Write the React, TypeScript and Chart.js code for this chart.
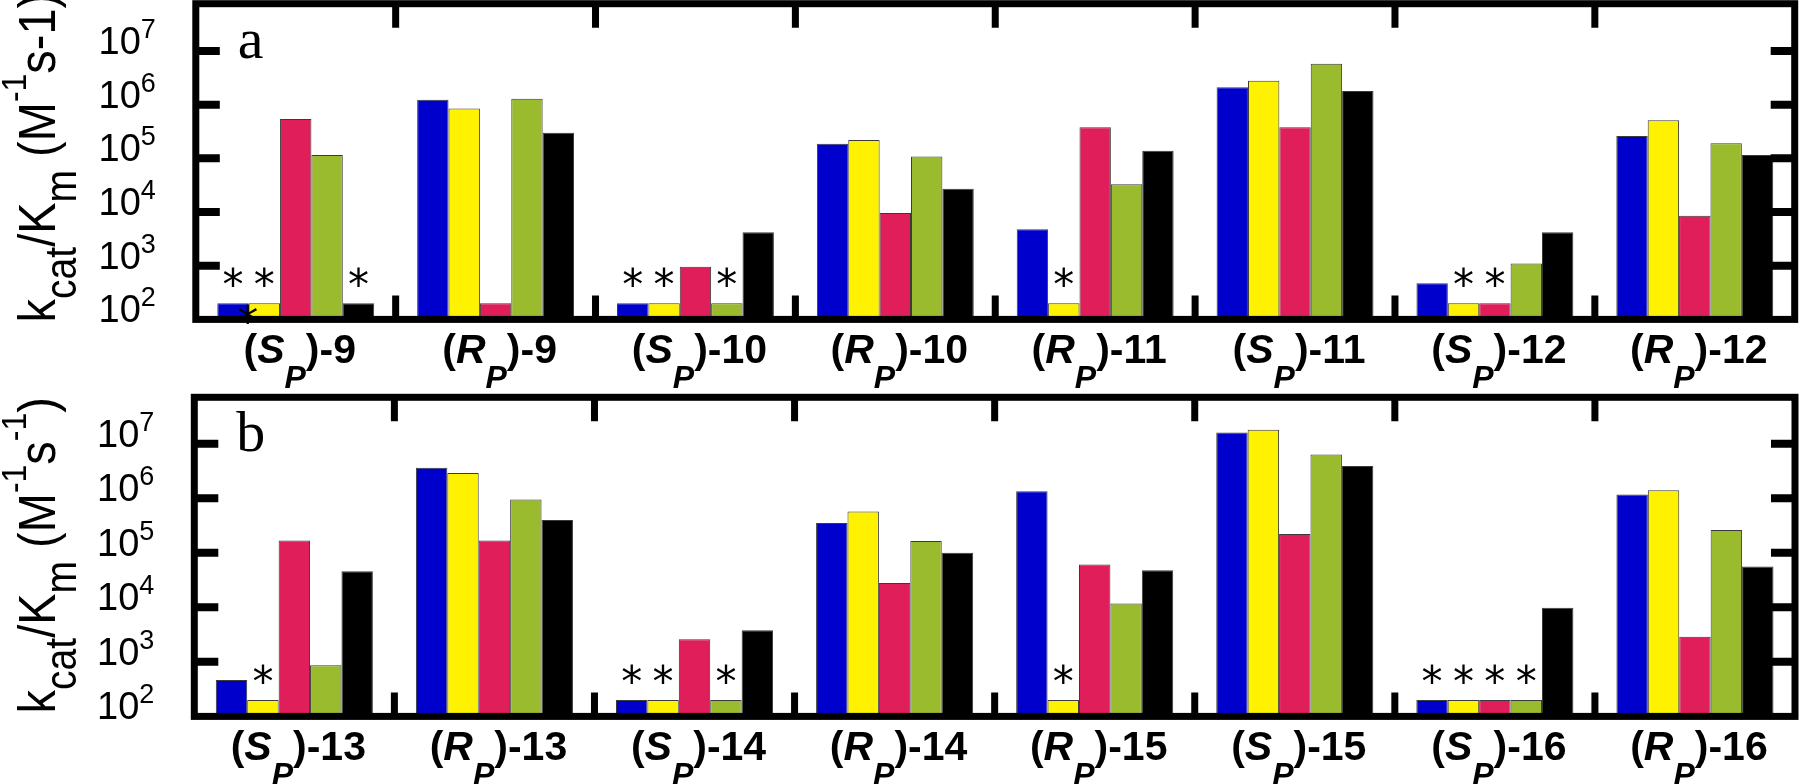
import React, { useEffect, useRef } from "react";
import { Chart, registerables } from "chart.js";
Chart.register(...registerables);

const WIDTH = 1800;
const PANEL_H = 392;

const seriesNames = ["blue", "yellow", "red", "green", "black"];
const seriesColors = ["#0000CD", "#FFF200", "#E01E5A", "#9BBB2F", "#000000"];
const yTickExponents = [2, 3, 4, 5, 6, 7];

// ---- panel a ----
const categoriesA = ["(S_P)-9", "(R_P)-9", "(S_P)-10", "(R_P)-10", "(R_P)-11", "(S_P)-11", "(S_P)-12", "(R_P)-12"];
const blueA = [200, 1.23e6, 200, 1.86e5, 4.8e3, 2.1e6, 470, 2.6e5];
const yellowA = [200, 8.5e5, 200, 2.2e5, 200, 2.8e6, 200, 5.1e5];
const redA = [5.4e5, 200, 960, 9.6e3, 3.8e5, 3.8e5, 200, 8.5e3];
const greenA = [1.15e5, 1.29e6, 200, 1.08e5, 3.3e4, 5.8e6, 1.1e3, 1.9e5];
const blackA = [200, 3.0e5, 4.2e3, 2.7e4, 1.38e5, 1.8e6, 4.2e3, 1.15e5];
// [category index, series index] of bars marked with an asterisk
const starsA = [[0, 0], [0, 1], [0, 4], [2, 0], [2, 1], [2, 3], [4, 1], [6, 1], [6, 2]];
// stray asterisk at the base, between two bars: [category, left series, right series]
const baseStarsA = [[0, 0, 1]];

// ---- panel b ----
const categoriesB = ["(S_P)-13", "(R_P)-13", "(S_P)-14", "(R_P)-14", "(R_P)-15", "(S_P)-15", "(S_P)-16", "(R_P)-16"];
const blueB = [465, 3.6e6, 200, 3.5e5, 1.34e6, 1.6e7, 200, 1.17e6];
const yellowB = [200, 2.9e6, 200, 5.7e5, 200, 1.8e7, 200, 1.4e6];
const redB = [1.67e5, 1.67e5, 2.6e3, 2.8e4, 6.1e4, 2.2e5, 200, 2.9e3];
const greenB = [870, 9.5e5, 200, 1.65e5, 1.17e4, 6.3e6, 200, 2.6e5];
const blackB = [4.6e4, 4.0e5, 3.8e3, 1.0e5, 4.8e4, 3.9e6, 9.8e3, 5.6e4];
const starsB = [[0, 1], [2, 0], [2, 1], [2, 3], [4, 1], [6, 0], [6, 1], [6, 2], [6, 3]];
const baseStarsB: number[][] = [];

type Part = { text: string; kind?: "sub" | "sup" };
const titleA: Part[] = [
  { text: "k" }, { text: "cat", kind: "sub" }, { text: "/K" }, { text: "m", kind: "sub" },
  { text: " (M" }, { text: "-1", kind: "sup" }, { text: "s-1)" },
];
const titleB: Part[] = [
  { text: "k" }, { text: "cat", kind: "sub" }, { text: "/K" }, { text: "m", kind: "sub" },
  { text: " (M" }, { text: "-1", kind: "sup" }, { text: "s" }, { text: "-1", kind: "sup" }, { text: ")" },
];

interface PanelSpec {
  letter: string;
  categories: string[];
  values: number[][];
  stars: number[][];
  baseStars: number[][];
  yMaxExp: number;
  title: Part[];
  area: { left: number; right: number; top: number; bottom: number };
  titleStartOffset: number;
}

const panelA: PanelSpec = {
  letter: "a",
  categories: categoriesA,
  values: [blueA, yellowA, redA, greenA, blackA],
  stars: starsA,
  baseStars: baseStarsA,
  yMaxExp: 7.88,
  title: titleA,
  area: { left: 195.8, right: 1794.7, top: 3.7, bottom: 319.4 },
  titleStartOffset: 3,
};
const panelB: PanelSpec = {
  letter: "b",
  categories: categoriesB,
  values: [blueB, yellowB, redB, greenB, blackB],
  stars: starsB,
  baseStars: baseStarsB,
  yMaxExp: 7.85,
  title: titleB,
  area: { left: 194.3, right: 1795, top: 5.3, bottom: 324.4 },
  titleStartOffset: -3,
};

const SANS = '"Liberation Sans", Arial, sans-serif';
const SERIF = '"Liberation Serif", "Times New Roman", serif';
const STAR_FONT = '42px "DejaVu Sans", sans-serif';

function drawTitle(ctx: CanvasRenderingContext2D, parts: Part[], x: number, y: number) {
  ctx.save();
  ctx.translate(x, y);
  ctx.rotate(-Math.PI / 2);
  ctx.scale(1, 1.12);
  ctx.fillStyle = "#000";
  ctx.textAlign = "left";
  ctx.textBaseline = "alphabetic";
  let cx = 0;
  for (const p of parts) {
    let dy = 0;
    if (p.kind === "sub") { ctx.font = `39px ${SANS}`; dy = 19; }
    else if (p.kind === "sup") { ctx.font = `32px ${SANS}`; dy = -26; }
    else ctx.font = `47px ${SANS}`;
    ctx.fillText(p.text, cx, dy);
    cx += ctx.measureText(p.text).width;
  }
  ctx.restore();
}

function drawCategoryLabel(ctx: CanvasRenderingContext2D, label: string, cx: number, baseY: number) {
  const m = label.match(/^\((\w)_(\w)\)(.*)$/);
  const segs: { t: string; font: string; dy: number }[] = m
    ? [
        { t: "(", font: `bold 41px ${SANS}`, dy: 0 },
        { t: m[1], font: `italic bold 41px ${SANS}`, dy: 0 },
        { t: m[2], font: `italic bold 32px ${SANS}`, dy: 25 },
        { t: ")" + m[3], font: `bold 41px ${SANS}`, dy: 0 },
      ]
    : [{ t: label, font: `bold 41px ${SANS}`, dy: 0 }];
  let total = 0;
  for (const s of segs) { ctx.font = s.font; total += ctx.measureText(s.t).width; }
  let x = cx - total / 2;
  ctx.textAlign = "left";
  ctx.textBaseline = "alphabetic";
  for (const s of segs) {
    ctx.font = s.font;
    ctx.fillText(s.t, x, baseY + s.dy);
    x += ctx.measureText(s.t).width;
  }
}

function makePlugin(spec: PanelSpec) {
  return {
    id: "panelDecor" + spec.letter,
    afterDraw(chart: any) {
      const { ctx, chartArea: ca, scales } = chart;
      const xs = scales.x, ys = scales.y;
      ctx.save();
      ctx.fillStyle = "#000";
      ctx.strokeStyle = "#000";

      // asterisks above bars
      ctx.font = STAR_FONT;
      ctx.textAlign = "center";
      ctx.textBaseline = "alphabetic";
      for (const [ci, si] of spec.stars) {
        const el = chart.getDatasetMeta(si).data[ci];
        ctx.fillText("*", el.x, el.y - 4);
      }
      // stray asterisk at the base between two bars
      for (const [ci, s1, s2] of spec.baseStars) {
        const e1 = chart.getDatasetMeta(s1).data[ci];
        const e2 = chart.getDatasetMeta(s2).data[ci];
        ctx.fillText("*", (e1.x + e2.x) / 2 - 1, ca.bottom + 17);
      }

      // frame
      ctx.lineJoin = "miter";
      ctx.lineWidth = 7;
      ctx.strokeRect(ca.left, ca.top, ca.right - ca.left, ca.bottom - ca.top);

      // y ticks (inward, both sides)
      ctx.lineWidth = 8;
      ctx.lineCap = "butt";
      for (const e of yTickExponents) {
        const py = ys.getPixelForValue(Math.pow(10, e));
        if (py > ca.bottom - 2) continue;
        ctx.beginPath();
        ctx.moveTo(ca.left, py); ctx.lineTo(ca.left + 24, py);
        ctx.moveTo(ca.right, py); ctx.lineTo(ca.right - 24, py);
        ctx.stroke();
      }
      // category boundary ticks
      ctx.lineWidth = 7;
      for (let i = 1; i < spec.categories.length; i++) {
        const px = (xs.getPixelForValue(i - 1) + xs.getPixelForValue(i)) / 2;
        ctx.beginPath();
        ctx.moveTo(px, ca.bottom); ctx.lineTo(px, ca.bottom - 24);
        ctx.moveTo(px, ca.top); ctx.lineTo(px, ca.top + 24);
        ctx.stroke();
      }

      // y tick labels 10^n
      for (const e of yTickExponents) {
        const py = ys.getPixelForValue(Math.pow(10, e));
        const right = ca.left - 40;
        ctx.font = `27px ${SANS}`;
        const ew = ctx.measureText(String(e)).width;
        ctx.textAlign = "left";
        ctx.fillText(String(e), right - ew, py - 13);
        ctx.font = `38px ${SANS}`;
        ctx.textAlign = "right";
        ctx.fillText("10", right - ew, py + 3);
      }

      // category labels
      for (let i = 0; i < spec.categories.length; i++) {
        drawCategoryLabel(ctx, spec.categories[i], xs.getPixelForValue(i) + 4, ca.bottom + 44);
      }

      // panel letter
      ctx.font = `58px ${SERIF}`;
      ctx.textAlign = "left";
      ctx.fillText(spec.letter, ca.left + 42, ca.top + 54);

      // y title
      drawTitle(ctx, spec.title, 55, ca.bottom + spec.titleStartOffset);
      ctx.restore();
    },
  };
}

function Panel({ spec, top }: { spec: PanelSpec; top: number }) {
  const ref = useRef<HTMLCanvasElement | null>(null);
  useEffect(() => {
    if (!ref.current) return;
    const a = spec.area;
    const chart = new Chart(ref.current, {
      type: "bar",
      data: {
        labels: spec.categories,
        datasets: spec.values.map((vals, si) => ({
          label: seriesNames[si],
          data: vals,
          backgroundColor: seriesColors[si],
          borderColor: "#3a3a3a",
          borderWidth: 1,
          categoryPercentage: 0.785,
          barPercentage: 1.0,
        })),
      },
      options: {
        responsive: false,
        animation: false,
        devicePixelRatio: 1,
        layout: { padding: { left: a.left, right: WIDTH - a.right, top: a.top, bottom: PANEL_H - a.bottom } },
        plugins: { legend: { display: false }, tooltip: { enabled: false } },
        scales: {
          x: { type: "category", display: false, offset: true },
          y: { type: "logarithmic", display: false, min: 100, max: Math.pow(10, spec.yMaxExp) },
        },
      },
      plugins: [makePlugin(spec)],
    } as any);
    return () => chart.destroy();
  }, [spec]);
  return (
    <canvas
      ref={ref}
      width={WIDTH}
      height={PANEL_H}
      style={{ position: "absolute", left: 0, top, width: WIDTH, height: PANEL_H }}
    />
  );
}

export default function App() {
  useEffect(() => {
    document.body.style.margin = "0";
    document.body.style.background = "#fff";
  }, []);
  return (
    <div style={{ position: "relative", width: WIDTH, height: 784, background: "#fff", overflow: "hidden" }}>
      <Panel spec={panelA} top={0} />
      <Panel spec={panelB} top={PANEL_H} />
    </div>
  );
}
